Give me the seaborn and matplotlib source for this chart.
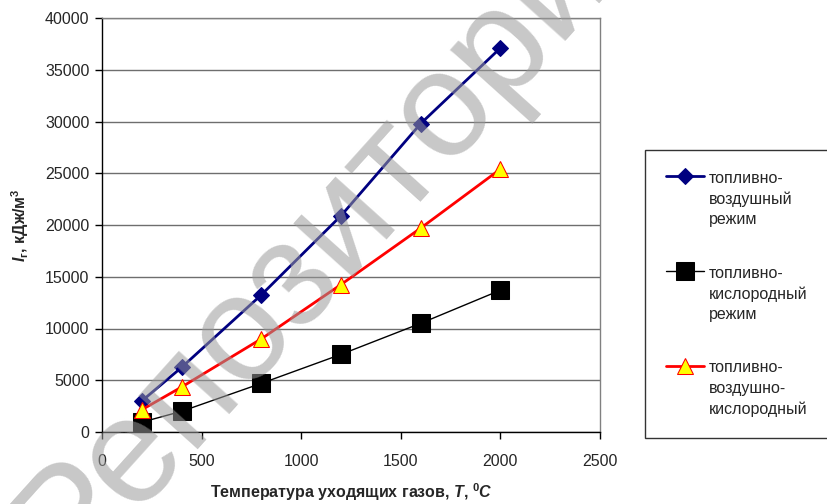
import numpy as np
import pandas as pd
import matplotlib
matplotlib.use("Agg")
import matplotlib.pyplot as plt
import seaborn as sns

# ---- data ----
temps = [200, 400, 800, 1200, 1600, 2000]
air_mode = [3000, 6250, 13250, 20900, 29800, 37100]
oxy_mode = [950, 2000, 4700, 7500, 10500, 13700]
air_oxy_mode = [2150, 4350, 9000, 14250, 19700, 25400]

labels = ["топливно-\nвоздушный\nрежим",
          "топливно-\nкислородный\nрежим",
          "топливно-\nвоздушно-\nкислородный"]

x_ticks = [0, 500, 1000, 1500, 2000, 2500]
y_ticks = [0, 5000, 10000, 15000, 20000, 25000, 30000, 35000, 40000]

df = pd.DataFrame({
    "T": temps * 3,
    "I": air_mode + oxy_mode + air_oxy_mode,
    "mode": [labels[0]] * 6 + [labels[1]] * 6 + [labels[2]] * 6,
})

sns.set_style("white")
plt.rcParams["font.family"] = ["Liberation Sans", "DejaVu Sans"]
plt.rcParams["mathtext.fontset"] = "custom"
plt.rcParams["mathtext.rm"] = "Liberation Sans"
plt.rcParams["mathtext.it"] = "Liberation Sans:italic"
plt.rcParams["mathtext.bf"] = "Liberation Sans:bold"
plt.rcParams["mathtext.bfit"] = "Liberation Sans:bold:italic"

FS = 11.5

fig = plt.figure(figsize=(8.27, 5.04), dpi=100)
ax = fig.add_axes([102 / 827, 1 - 432 / 504, 498 / 827, 414 / 504])

styles = {
    labels[0]: dict(color="#000080", marker="D", markersize=8, lw=2,
                    markerfacecolor="#000080", markeredgecolor="#000080"),
    labels[1]: dict(color="black", marker="s", markersize=13, lw=1,
                    markerfacecolor="black", markeredgecolor="black"),
    labels[2]: dict(color="#ff0000", marker="^", markersize=11, lw=2,
                    markerfacecolor="#ffff00", markeredgecolor="#ff0000"),
}

for lab in labels:
    sub = df[df["mode"] == lab]
    sns.lineplot(data=sub, x="T", y="I", ax=ax, label=lab, zorder=3, **styles[lab])

ax.set_xlim(0, 2500)
ax.set_ylim(0, 40000)
ax.set_xticks(x_ticks)
ax.set_yticks(y_ticks)
ax.yaxis.grid(True, color="#6e6e6e", lw=1)
ax.xaxis.grid(False)
ax.tick_params(axis="both", direction="out", length=5, width=1, color="black",
               labelsize=FS, left=True, bottom=True)
ax.tick_params(axis="x", pad=11)
ax.tick_params(axis="y", pad=4)
for s in ["left", "bottom"]:
    ax.spines[s].set_color("black")
    ax.spines[s].set_linewidth(1)
for s in ["top", "right"]:
    ax.spines[s].set_color("#808080")
    ax.spines[s].set_linewidth(1)

ax.set_xlabel(r"Температура уходящих газов, $\mathbfit{T}$, $^\mathbf{0}\mathbfit{C}$",
              fontsize=FS, fontweight="bold", labelpad=9)
ax.set_ylabel(r"$\mathbfit{I}_\mathbf{г}$, кДж/м$^\mathbf{3}$",
              fontsize=FS, fontweight="bold", labelpad=10)

leg = ax.legend(loc="upper left", bbox_to_anchor=(645 / 827, 0, 0.3, 1 - 150 / 504),
                bbox_transform=fig.transFigure, mode="expand",
                frameon=True, fancybox=False, edgecolor="black", fontsize=FS,
                handlelength=2.4, handletextpad=0.3, labelspacing=2.4,
                borderpad=1.3, borderaxespad=0)
leg.get_frame().set_linewidth(1)
for t in leg.get_texts():
    t.set_linespacing(1.45)
# put each legend marker next to the first line of its label
for col in leg._legend_handle_box.get_children():
    for item in col.get_children():
        item.align = "top"

# watermark
fig.text(0.41, 0.565, "Репозиторий", fontsize=108, color="#9a9a9a", alpha=0.55,
         rotation=48, ha="center", va="center", zorder=10)

fig.savefig("out.png", dpi=100)
